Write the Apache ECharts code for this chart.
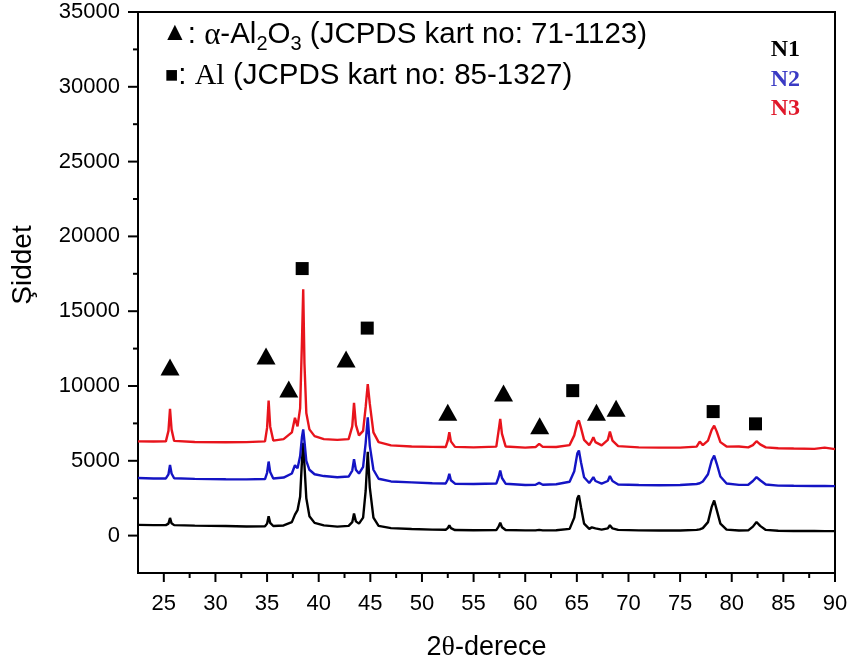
<!DOCTYPE html>
<html>
<head>
<meta charset="utf-8">
<script src="https://cdn.jsdelivr.net/npm/echarts@6/dist/echarts.min.js"></script>
<style>
  html, body { margin: 0; padding: 0; background: #fff; }
  #chart { width: 852px; height: 668px; }
</style>
</head>
<body>
<div id="chart"></div>
<script>
// 2θ positions shared by the three diffraction patterns
const twoTheta = [
  22.5, 24.0, 25.2, 25.45, 25.6, 25.75, 26.0, 28.0, 31.0, 33.0,
  34.8, 35.0, 35.15, 35.3, 35.6, 36.6, 37.4, 37.7, 37.95, 38.2,
  38.38, 38.5, 38.62, 38.8, 39.1, 39.6, 40.5, 41.8, 42.9, 43.25,
  43.42, 43.6, 43.9, 44.3, 44.55, 44.75, 44.95, 45.3, 45.8, 47.0,
  49.0, 51.0, 52.3, 52.5, 52.65, 52.8, 53.2, 55.0, 57.2, 57.42,
  57.58, 57.75, 58.1, 60.0, 61.0, 61.35, 61.7, 63.0, 64.3, 64.75,
  65.05, 65.2, 65.4, 65.7, 66.2, 66.45, 66.6, 66.8, 67.4, 68.0,
  68.2, 68.45, 69.0, 71.0, 73.0, 75.0, 76.6, 76.9, 77.2, 77.7,
  78.05, 78.3, 78.55, 78.9, 79.5, 80.7, 81.6, 82.05, 82.4, 82.75,
  83.3, 84.5, 86.0, 88.0, 89.0, 90.0
];

// Intensity of sample N1
const intensityN1 = [
  720, 700, 700, 800, 1180, 820, 700, 670, 640, 610,
  620, 800, 1290, 850, 640, 680, 900, 1400, 1700, 2600,
  5000, 6200, 4700, 2500, 1300, 850, 680, 600, 650, 900,
  1470, 950, 800, 1200, 3000, 5600, 3200, 1200, 650, 500,
  440, 400, 390, 500, 690, 500, 370, 360, 370, 600,
  870, 560, 370, 350, 350, 380, 350, 360, 450, 1200,
  2500, 2690, 1900, 800, 450, 550, 600, 480, 400, 480,
  690, 480, 380, 350, 340, 340, 380, 420, 500, 900,
  1900, 2350, 1700, 800, 400, 340, 350, 600, 910, 650,
  380, 320, 310, 310, 300, 300
];

// Intensity of sample N2
const intensityN2 = [
  3850, 3820, 3820, 4100, 4730, 4150, 3830, 3790, 3770, 3760,
  3780, 4200, 4950, 4250, 3820, 3880, 4150, 4700, 4500, 5300,
  6600, 7100, 6300, 5000, 4400, 4100, 3980, 3900, 3950, 4350,
  5100, 4400, 4150, 4600, 6200, 7900, 6000, 4400, 3800, 3620,
  3560, 3500, 3480, 3750, 4130, 3700, 3470, 3450, 3480, 3900,
  4350, 3850, 3470, 3380, 3400, 3520, 3400, 3430, 3600, 4300,
  5500, 5690, 4900, 3900, 3520, 3750, 3910, 3650, 3480, 3650,
  3980, 3650, 3420, 3380, 3370, 3380, 3450, 3500, 3620, 4100,
  5000, 5350, 4800, 3950, 3480, 3390, 3400, 3650, 3910, 3700,
  3420, 3340, 3330, 3320, 3320, 3310
];

// Intensity of sample N3
const intensityN3 = [
  6300, 6290, 6300, 7000, 8470, 7100, 6330, 6260, 6240, 6250,
  6300, 7200, 9020, 7300, 6350, 6450, 6900, 7870, 7300, 8500,
  13000, 16470, 11500, 8200, 7100, 6650, 6450, 6400, 6450, 7300,
  8870, 7400, 6700, 7000, 8600, 10130, 8800, 6900, 6250, 6030,
  5960, 5930, 5920, 6350, 6910, 6300, 5930, 5900, 5950, 7000,
  7800, 6800, 5960, 5880, 5920, 6130, 5930, 5920, 6050, 6700,
  7550, 7690, 7200, 6400, 6050, 6350, 6580, 6250, 6030, 6400,
  6950, 6350, 5980, 5900, 5880, 5880, 5950, 6290, 6050, 6350,
  7050, 7350, 6950, 6250, 5950, 5960, 5900, 6050, 6310, 6100,
  5900, 5840, 5820, 5800, 5880, 5780
];

// Phase markers: α-Al2O3 (triangles) and Al (squares)
const aluminaTheta = [25.6, 34.9, 37.1, 42.65, 52.5, 57.9, 61.4, 66.9, 68.8];
const aluminaLevel = [11270, 12000, 9800, 11800, 8240, 9530, 7350, 8240, 8510];
const aluminiumTheta = [38.4, 44.7, 64.6, 78.2, 82.3];
const aluminiumLevel = [17850, 13870, 9690, 8290, 7470];

// Axis ranges and ticks
const xRange = [22.5, 90];
const yRange = [-2500, 35000];
const xMajorTicks = [25, 30, 35, 40, 45, 50, 55, 60, 65, 70, 75, 80, 85, 90];
const xMinorTicks = [27.5, 32.5, 37.5, 42.5, 47.5, 52.5, 57.5, 62.5, 67.5, 72.5, 77.5, 82.5, 87.5];
const yMajorTicks = [0, 5000, 10000, 15000, 20000, 25000, 30000, 35000];
const yMinorTicks = [2500, 7500, 12500, 17500, 22500, 27500, 32500];

const sampleNames = ['N1', 'N2', 'N3'];

const FONT = '"Liberation Sans", Arial, sans-serif';
const SERIF = '"Liberation Serif", "Times New Roman", serif';
const lineColors = ['#000000', '#1414c4', '#e8141c'];
const labelColors = ['#000000', '#3a3ac4', '#e0182a'];

const pairs = (xs, ys) => xs.map((x, i) => [x, ys[i]]);
const plain = v => String(v);

// Outward tick marks placed through the axes' own scales
function tickSeries(values, onXAxis, length) {
  return {
    type: 'custom', xAxisIndex: 0, yAxisIndex: 0, clip: false, silent: true, z: 10,
    data: values.map(v => (onXAxis ? [v, yRange[0]] : [xRange[0], v])),
    renderItem: (params, api) => {
      const p = api.coord([api.value(0), api.value(1)]);
      const shape = onXAxis
        ? { x1: p[0], y1: p[1], x2: p[0], y2: p[1] + length }
        : { x1: p[0], y1: p[1], x2: p[0] - length, y2: p[1] };
      return { type: 'line', shape: shape, style: { stroke: '#000', lineWidth: 2 } };
    }
  };
}

const chart = echarts.init(document.getElementById('chart'), null, { renderer: 'canvas' });

const option = {
  animation: false,
  backgroundColor: '#fff',
  grid: {
    left: 138, right: 17, top: 12, bottom: 95,
    show: true, borderColor: '#000', borderWidth: 2, backgroundColor: 'transparent'
  },
  xAxis: {
    type: 'value', min: xRange[0], max: xRange[1], position: 'bottom',
    name: '2{g|θ}-derece', nameLocation: 'middle', nameGap: 61,
    nameTextStyle: {
      fontFamily: FONT, fontSize: 27, color: '#000',
      rich: { g: { fontFamily: SERIF, fontSize: 28, color: '#000' } }
    },
    axisLine: { show: true, onZero: false, lineStyle: { color: '#000', width: 2 } },
    axisTick: { show: false },
    axisLabel: { show: true, margin: 20, fontFamily: FONT, fontSize: 22, color: '#000', customValues: xMajorTicks, formatter: plain },
    splitLine: { show: false }
  },
  yAxis: {
    type: 'value', min: yRange[0], max: yRange[1], position: 'left',
    axisLine: { show: true, onZero: false, lineStyle: { color: '#000', width: 2 } },
    axisTick: { show: false },
    axisLabel: { show: true, margin: 18, fontFamily: FONT, fontSize: 22, color: '#000', customValues: yMajorTicks, formatter: plain },
    splitLine: { show: false }
  },
  series: [
    {
      name: sampleNames[0], type: 'line', showSymbol: false,
      data: pairs(twoTheta, intensityN1),
      lineStyle: { color: lineColors[0], width: 2.4 }, z: 2
    },
    {
      name: sampleNames[1], type: 'line', showSymbol: false,
      data: pairs(twoTheta, intensityN2),
      lineStyle: { color: lineColors[1], width: 2.4 }, z: 3
    },
    {
      name: sampleNames[2], type: 'line', showSymbol: false,
      data: pairs(twoTheta, intensityN3),
      lineStyle: { color: lineColors[2], width: 2.4 }, z: 4
    },
    {
      name: 'α-Al2O3', type: 'scatter',
      symbol: 'triangle', symbolSize: [19, 17],
      itemStyle: { color: '#000', opacity: 1 },
      data: pairs(aluminaTheta, aluminaLevel), z: 5
    },
    {
      name: 'Al', type: 'scatter',
      symbol: 'rect', symbolSize: 13,
      itemStyle: { color: '#000', opacity: 1 },
      data: pairs(aluminiumTheta, aluminiumLevel), z: 5
    },
    tickSeries(xMajorTicks, true, 9),
    tickSeries(xMinorTicks, true, 5),
    tickSeries(yMajorTicks, false, 10),
    tickSeries(yMinorTicks, false, 5)
  ],
  graphic: [
    {
      type: 'text', x: 23, y: 265, rotation: Math.PI / 2,
      style: { text: 'Şiddet', fontFamily: FONT, fontSize: 28, fill: '#000', align: 'center', verticalAlign: 'middle' }
    },
    {
      type: 'text', x: 162, y: 20,
      style: {
        text: '{sym|▲}{t|: }{a|α}{t|-Al}{sub|2}{t|O}{sub|3}{t| (JCPDS kart no: 71-1123)}',
        rich: {
          sym: { fontFamily: FONT, fontSize: 26, fill: '#000', lineHeight: 34, verticalAlign: 'top' },
          t: { fontFamily: FONT, fontSize: 29.5, fill: '#000', lineHeight: 34, verticalAlign: 'top' },
          a: { fontFamily: SERIF, fontSize: 31, fill: '#000', lineHeight: 34, verticalAlign: 'top' },
          sub: { fontFamily: FONT, fontSize: 20, fill: '#000', lineHeight: 17, verticalAlign: 'bottom' }
        }
      }
    },
    {
      type: 'text', x: 165, y: 59,
      style: {
        text: '{sym|■}{t|: }{s|Al}{t| (JCPDS kart no: 85-1327)}',
        rich: {
          sym: { fontFamily: FONT, fontSize: 22, fill: '#000', lineHeight: 34 },
          t: { fontFamily: FONT, fontSize: 29.5, fill: '#000', lineHeight: 34 },
          s: { fontFamily: SERIF, fontSize: 30, fill: '#000', lineHeight: 34 }
        }
      }
    },
    {
      type: 'group', right: 52, top: 38,
      children: sampleNames.map((n, i) => ({
        type: 'text', x: 0, y: i * 29.5,
        style: { text: n, fontFamily: SERIF, fontWeight: 'bold', fontSize: 24, fill: labelColors[i], align: 'right' }
      }))
    }
  ]
};

chart.setOption(option);
</script>
</body>
</html>
